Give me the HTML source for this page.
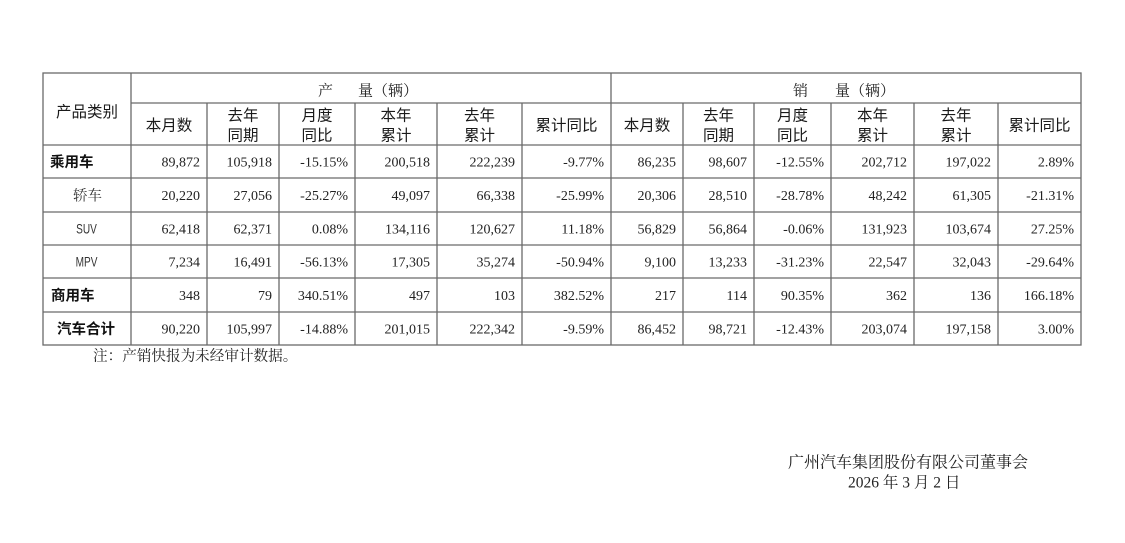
<!DOCTYPE html>
<html><head><meta charset="utf-8"><style>
html,body{margin:0;padding:0;background:#fff;}
svg{display:block;}
.n{font-family:"Liberation Serif","Noto Serif CJK SC",serif;font-size:14px;fill:#222;text-anchor:end;}
.h{font-family:"Liberation Sans","Noto Sans CJK SC",sans-serif;font-size:15.5px;fill:#1a1a1a;text-anchor:middle;font-weight:normal;}
.t{font-family:"Liberation Serif","Noto Serif CJK SC",serif;font-size:15px;fill:#222;}
.b{font-family:"Liberation Sans","Noto Sans CJK SC",sans-serif;font-size:14.5px;fill:#111;font-weight:bold;}
.s{font-family:"Liberation Serif","Noto Serif CJK SC",serif;font-size:14.5px;fill:#333;text-anchor:middle;}
.w{font-family:"Liberation Sans",sans-serif;font-size:14px;fill:#333;text-anchor:middle;}
</style></head><body>
<svg width="1125" height="543" xmlns="http://www.w3.org/2000/svg">
<rect width="1125" height="543" fill="#fff"/>
<g stroke="#6a6a6a" stroke-width="1.3" fill="none">
<rect x="43" y="73" width="1038" height="272"/>
<line x1="131" y1="103" x2="1081" y2="103"/>
<line x1="131" y1="145" x2="1081" y2="145"/>
<line x1="43" y1="145" x2="131" y2="145"/>
<line x1="43" y1="178" x2="1081" y2="178"/>
<line x1="43" y1="212" x2="1081" y2="212"/>
<line x1="43" y1="245" x2="1081" y2="245"/>
<line x1="43" y1="278" x2="1081" y2="278"/>
<line x1="43" y1="312" x2="1081" y2="312"/>
<line x1="131" y1="73" x2="131" y2="345"/>
<line x1="611" y1="73" x2="611" y2="345"/>
<line x1="207" y1="103" x2="207" y2="345"/>
<line x1="279" y1="103" x2="279" y2="345"/>
<line x1="355" y1="103" x2="355" y2="345"/>
<line x1="437" y1="103" x2="437" y2="345"/>
<line x1="522" y1="103" x2="522" y2="345"/>
<line x1="683" y1="103" x2="683" y2="345"/>
<line x1="754" y1="103" x2="754" y2="345"/>
<line x1="831" y1="103" x2="831" y2="345"/>
<line x1="914" y1="103" x2="914" y2="345"/>
<line x1="998" y1="103" x2="998" y2="345"/>
</g>

<text class="t" x="318" y="95.5">产</text>
<text class="t" x="358" y="95.5">量（辆）</text>
<text class="t" x="793" y="95.5">销</text>
<text class="t" x="835" y="95.5">量（辆）</text>

<text class="h" x="87" y="117">产品类别</text>

<text class="h" x="169" y="130.7">本月数</text>
<text class="h" x="243" y="120.7">去年</text><text class="h" x="243" y="140.7">同期</text>
<text class="h" x="317" y="120.7">月度</text><text class="h" x="317" y="140.7">同比</text>
<text class="h" x="396" y="120.7">本年</text><text class="h" x="396" y="140.7">累计</text>
<text class="h" x="479.5" y="120.7">去年</text><text class="h" x="479.5" y="140.7">累计</text>
<text class="h" x="566.5" y="130.7">累计同比</text>
<text class="h" x="647" y="130.7">本月数</text>
<text class="h" x="718.5" y="120.7">去年</text><text class="h" x="718.5" y="140.7">同期</text>
<text class="h" x="792.5" y="120.7">月度</text><text class="h" x="792.5" y="140.7">同比</text>
<text class="h" x="872.5" y="120.7">本年</text><text class="h" x="872.5" y="140.7">累计</text>
<text class="h" x="956" y="120.7">去年</text><text class="h" x="956" y="140.7">累计</text>
<text class="h" x="1039.5" y="130.7">累计同比</text>

<!-- row labels -->
<text class="b" x="50" y="167">乘用车</text>
<text class="s" x="87.5" y="200.5">轿车</text>
<text class="w" x="86.5" y="233.5" transform="translate(86.5 0) scale(0.72 1) translate(-86.5 0)">SUV</text>
<text class="w" x="86.5" y="266.5" transform="translate(86.5 0) scale(0.72 1) translate(-86.5 0)">MPV</text>
<text class="b" x="51" y="300.5">商用车</text>
<text class="b" x="86" y="334" text-anchor="middle">汽车合计</text>

<g class="n">
<text x="200" y="166.3">89,872</text><text x="272" y="166.3">105,918</text><text x="348" y="166.3">-15.15%</text><text x="430" y="166.3">200,518</text><text x="515" y="166.3">222,239</text><text x="604" y="166.3">-9.77%</text><text x="676" y="166.3">86,235</text><text x="747" y="166.3">98,607</text><text x="824" y="166.3">-12.55%</text><text x="907" y="166.3">202,712</text><text x="991" y="166.3">197,022</text><text x="1074" y="166.3">2.89%</text>
</g>
<g class="n">
<text x="200" y="199.8">20,220</text><text x="272" y="199.8">27,056</text><text x="348" y="199.8">-25.27%</text><text x="430" y="199.8">49,097</text><text x="515" y="199.8">66,338</text><text x="604" y="199.8">-25.99%</text><text x="676" y="199.8">20,306</text><text x="747" y="199.8">28,510</text><text x="824" y="199.8">-28.78%</text><text x="907" y="199.8">48,242</text><text x="991" y="199.8">61,305</text><text x="1074" y="199.8">-21.31%</text>
</g>
<g class="n">
<text x="200" y="233.3">62,418</text><text x="272" y="233.3">62,371</text><text x="348" y="233.3">0.08%</text><text x="430" y="233.3">134,116</text><text x="515" y="233.3">120,627</text><text x="604" y="233.3">11.18%</text><text x="676" y="233.3">56,829</text><text x="747" y="233.3">56,864</text><text x="824" y="233.3">-0.06%</text><text x="907" y="233.3">131,923</text><text x="991" y="233.3">103,674</text><text x="1074" y="233.3">27.25%</text>
</g>
<g class="n">
<text x="200" y="266.3">7,234</text><text x="272" y="266.3">16,491</text><text x="348" y="266.3">-56.13%</text><text x="430" y="266.3">17,305</text><text x="515" y="266.3">35,274</text><text x="604" y="266.3">-50.94%</text><text x="676" y="266.3">9,100</text><text x="747" y="266.3">13,233</text><text x="824" y="266.3">-31.23%</text><text x="907" y="266.3">22,547</text><text x="991" y="266.3">32,043</text><text x="1074" y="266.3">-29.64%</text>
</g>
<g class="n">
<text x="200" y="299.8">348</text><text x="272" y="299.8">79</text><text x="348" y="299.8">340.51%</text><text x="430" y="299.8">497</text><text x="515" y="299.8">103</text><text x="604" y="299.8">382.52%</text><text x="676" y="299.8">217</text><text x="747" y="299.8">114</text><text x="824" y="299.8">90.35%</text><text x="907" y="299.8">362</text><text x="991" y="299.8">136</text><text x="1074" y="299.8">166.18%</text>
</g>
<g class="n">
<text x="200" y="333.3">90,220</text><text x="272" y="333.3">105,997</text><text x="348" y="333.3">-14.88%</text><text x="430" y="333.3">201,015</text><text x="515" y="333.3">222,342</text><text x="604" y="333.3">-9.59%</text><text x="676" y="333.3">86,452</text><text x="747" y="333.3">98,721</text><text x="824" y="333.3">-12.43%</text><text x="907" y="333.3">203,074</text><text x="991" y="333.3">197,158</text><text x="1074" y="333.3">3.00%</text>
</g>

<text class="t" x="93" y="360.5" style="font-size:14.6px">注：产销快报为未经审计数据。</text>
<text class="t" x="788" y="467.5" style="font-size:16px">广州汽车集团股份有限公司董事会</text>
<text class="t" x="848" y="487.5" style="font-size:15.5px">2026 年 3 月 2 日</text>
</svg>
</body></html>
